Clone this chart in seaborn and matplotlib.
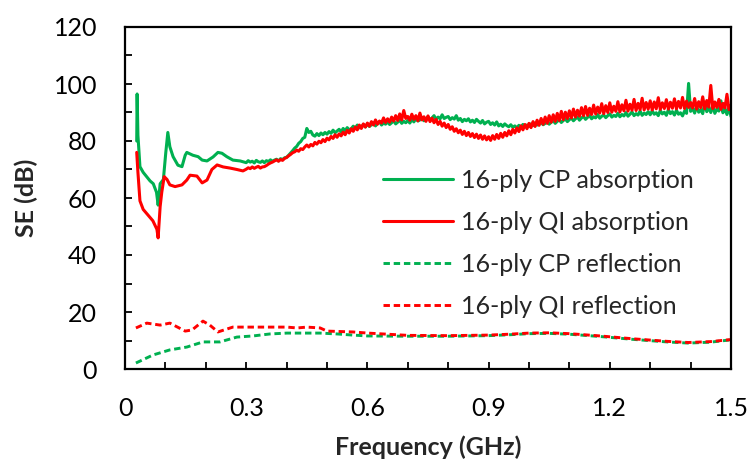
import numpy as np
import pandas as pd
import matplotlib
matplotlib.use("Agg")
import matplotlib.pyplot as plt
import seaborn as sns
from matplotlib.ticker import MultipleLocator

# Absorption, Bereich unter 0.3 GHz (unregelmaessig abgetastet)
cp_abs_f_low = [0.029, 0.030, 0.032, 0.037, 0.045, 0.062, 0.070, 0.078, 0.082, 0.087, 0.095,
                0.101, 0.106, 0.111, 0.119, 0.131, 0.141, 0.149, 0.153, 0.168, 0.181, 0.191,
                0.203, 0.218, 0.230, 0.240, 0.252, 0.267, 0.285]
cp_abs_low = [80.0, 96.5, 82.0, 71.0, 69.0, 66.0, 65.0, 62.0, 57.5, 65.0, 66.5,
              76.0, 83.0, 78.0, 74.5, 71.5, 71.0, 75.0, 76.0, 75.0, 74.5, 73.3,
              73.0, 74.4, 76.0, 75.7, 74.5, 73.3, 73.0]

qi_abs_f_low = [0.029, 0.032, 0.037, 0.045, 0.057, 0.069, 0.079, 0.082, 0.087, 0.091, 0.097,
                0.104, 0.111, 0.124, 0.141, 0.153, 0.161, 0.178, 0.191, 0.203, 0.215, 0.228,
                0.243, 0.260, 0.277, 0.292]
qi_abs_low = [76.0, 69.0, 59.0, 56.0, 54.0, 52.0, 49.0, 46.0, 57.0, 62.0, 67.5,
              66.5, 64.6, 64.0, 64.6, 66.3, 68.0, 67.7, 65.3, 66.3, 70.0, 71.6,
              70.9, 70.5, 70.0, 69.5]

# Absorption ab 0.30 GHz in Schritten von 0.005 GHz (eine Zeile = 0.05 GHz)
f_high = [round(0.30 + 0.005 * i, 3) for i in range(241)]
cp_abs_high = [
    72.4, 73.1, 72.6, 72.9, 72.3, 73.2, 72.7, 72.5, 73.0, 72.4,
    73.1, 72.8, 73.4, 72.9, 73.3, 73.6, 73.0, 73.8, 73.5, 74.1,
    74.3, 75.0, 75.8, 76.6, 77.5, 78.1, 79.2, 79.8, 80.9, 81.3,
    84.4, 83.0, 83.4, 82.1, 81.7, 82.6, 81.9, 82.8, 82.2, 83.0,
    82.4, 83.3, 82.7, 83.8, 82.9, 83.5, 84.1, 83.2, 84.4, 83.6,
    84.7, 83.9, 84.3, 85.2, 84.4, 85.6, 84.6, 85.0, 85.8, 84.9,
    86.0, 85.1, 85.7, 86.4, 85.3, 86.1, 86.8, 85.6, 86.3, 85.9,
    86.7, 85.8, 86.4, 87.1, 86.0, 86.6, 87.3, 86.2, 86.9, 86.4,
    87.2, 86.3, 87.6, 86.7, 87.9, 87.0, 87.4, 88.3, 87.1, 87.8,
    88.5, 87.4, 88.1, 88.9, 87.6, 88.4, 87.8, 89.2, 87.9, 88.3,
    88.6, 87.5, 88.2, 87.7, 88.9, 87.3, 87.9, 86.8, 87.6, 87.1,
    87.8, 86.7, 87.3, 86.5, 87.6, 86.9, 86.3, 87.2, 86.0, 86.6,
    86.9, 85.8, 86.4, 85.6, 86.7, 85.3, 85.9, 85.1, 86.0, 85.4,
    85.0, 85.7, 84.8, 85.3, 84.6, 85.5, 84.9, 85.8, 85.2, 85.6,
    85.1, 86.0, 85.4, 86.3, 85.6, 85.9, 86.5, 85.7, 86.2, 86.8,
    85.9, 86.6, 87.1, 86.2, 86.9, 87.4, 86.5, 87.2, 87.7, 86.8,
    87.5, 88.0, 87.1, 87.8, 88.4, 87.3, 88.1, 88.6, 87.6, 88.3,
    88.9, 87.8, 88.5, 88.1, 89.3, 88.0, 88.7, 89.1, 88.2, 88.9,
    89.5, 88.4, 89.0, 88.6, 89.7, 88.5, 89.3, 88.8, 90.0, 88.7,
    89.4, 90.2, 88.9, 89.6, 89.1, 90.5, 89.0, 89.8, 89.3, 90.3,
    89.2, 90.6, 89.4, 89.9, 88.9, 90.7, 89.5, 90.1, 89.0, 91.0,
    89.6, 90.3, 89.1, 90.8, 89.4, 89.9, 88.8, 90.5, 89.7, 100.2,
    90.4, 91.5, 89.8, 92.3, 90.1, 91.0, 89.6, 93.6, 90.3, 91.8,
    90.0, 92.5, 89.7, 91.2, 90.5, 94.1, 89.9, 91.4, 89.3, 92.0,
    88.6]
qi_abs_high = [
    70.1, 70.6, 70.3, 70.9, 70.4, 70.8, 71.1, 70.5, 70.9, 71.0,
    71.4, 71.9, 72.3, 72.6, 73.0, 73.4, 72.9, 73.5, 73.2, 73.9,
    74.2, 74.8, 75.3, 75.9, 76.2, 76.8, 76.4, 77.3, 77.0, 77.9,
    78.6, 77.9, 78.8, 78.3, 79.5, 78.9, 79.9, 79.4, 80.5, 79.8,
    81.0, 80.4, 81.6, 80.9, 82.2, 81.3, 82.5, 81.8, 83.1, 82.2,
    83.7, 82.8, 84.3, 83.4, 84.9, 83.9, 85.6, 84.4, 86.0, 84.9,
    86.3, 85.2, 86.8, 85.6, 87.4, 85.9, 87.0, 86.3, 88.1, 86.5,
    87.8, 86.6, 88.4, 87.0, 88.9, 87.2, 89.5, 87.4, 90.7, 87.9,
    88.6, 87.3, 89.4, 87.6, 88.9, 87.1, 89.8, 87.4, 88.5, 86.9,
    88.8, 86.8, 88.0, 86.4, 87.6, 85.8, 86.9, 85.2, 86.3, 84.7,
    85.8, 84.1, 85.0, 83.4, 84.3, 82.9, 83.8, 82.3, 83.4, 81.9,
    83.0, 81.6, 82.6, 81.2, 82.4, 80.9, 82.1, 80.6, 81.8, 80.4,
    81.5, 80.2, 81.9, 80.6, 82.3, 80.9, 82.7, 81.3, 83.0, 81.8,
    83.6, 82.2, 84.1, 82.8, 84.6, 83.3, 85.3, 83.9, 85.8, 84.3,
    86.2, 84.7, 86.8, 85.1, 87.3, 85.5, 87.9, 85.9, 88.4, 86.2,
    88.9, 86.6, 89.2, 86.9, 89.7, 87.2, 90.4, 87.5, 90.1, 87.9,
    90.6, 88.1, 91.2, 88.4, 90.8, 88.7, 91.7, 88.9, 92.1, 89.0,
    91.5, 89.3, 92.6, 89.5, 91.9, 89.8, 93.1, 89.6, 92.4, 90.0,
    93.4, 90.1, 92.2, 90.4, 93.8, 90.2, 92.7, 90.6, 94.3, 90.5,
    92.9, 90.8, 94.6, 90.7, 93.2, 91.0, 95.0, 90.9, 93.5, 91.2,
    94.1, 90.9, 93.7, 91.3, 95.2, 91.1, 93.4, 91.4, 94.5, 91.2,
    93.6, 91.5, 94.8, 91.3, 93.9, 91.6, 95.3, 91.4, 94.0, 91.8,
    93.5, 91.6, 94.9, 91.2, 93.8, 91.7, 95.5, 91.3, 94.2, 91.9,
    99.5, 91.4, 93.7, 91.8, 94.6, 91.1, 93.2, 91.6, 96.4, 91.0,
    92.5]

# Reflexion
cp_ref_f = [0.027, 0.069, 0.111, 0.153, 0.193, 0.235, 0.277, 0.317, 0.359, 0.401, 0.441,
            0.483, 0.525, 0.564, 0.60, 0.70, 0.80, 0.90, 0.95, 1.00, 1.05, 1.10, 1.176,
            1.257, 1.342, 1.394, 1.448, 1.498]
cp_ref = [2.1, 4.9, 6.7, 7.7, 9.5, 9.5, 11.2, 11.6, 12.3, 12.6, 12.6,
          12.6, 12.3, 11.9, 11.6, 11.5, 11.5, 11.7, 12.0, 12.4, 12.5, 12.2, 11.4,
          10.4, 9.5, 9.1, 9.4, 10.2]
qi_ref_f = [0.027, 0.054, 0.087, 0.111, 0.149, 0.166, 0.193, 0.210, 0.230, 0.267, 0.317,
            0.359, 0.401, 0.426, 0.450, 0.483, 0.500, 0.564, 0.601, 0.70, 0.80, 0.90,
            0.95, 1.00, 1.05, 1.10, 1.176, 1.257, 1.342, 1.394, 1.448, 1.498]
qi_ref = [14.4, 16.1, 15.4, 16.1, 13.3, 13.7, 16.8, 15.4, 13.0, 14.7, 14.7,
          14.7, 14.7, 14.4, 14.7, 14.4, 13.3, 13.0, 12.6, 11.8, 11.7, 11.9,
          12.2, 12.6, 12.7, 12.4, 11.6, 10.6, 9.7, 9.3, 9.6, 10.3]

labels = ['16-ply CP absorption', '16-ply QI absorption',
          '16-ply CP reflection', '16-ply QI reflection']
x_ticks = [0, 0.3, 0.6, 0.9, 1.2, 1.5]
x_ticklabels = ['0', '0.3', '0.6', '0.9', '1.2', '1.5']
y_ticks = [0, 20, 40, 60, 80, 100, 120]

sns.set_style("ticks")
plt.rcParams['font.family'] = ['Lato', 'DejaVu Sans']

fig = plt.figure(figsize=(7.51, 4.61), dpi=100)
ax = fig.add_axes([125 / 751, 1 - 369 / 461, 606 / 751, 342 / 461])

green = '#00B050'
red = '#FF0000'

sns.lineplot(x=cp_abs_f_low + f_high, y=cp_abs_low + cp_abs_high, ax=ax, color=green,
             lw=2.2, label=labels[0], estimator=None, sort=False)
sns.lineplot(x=qi_abs_f_low + f_high, y=qi_abs_low + qi_abs_high, ax=ax, color=red,
             lw=2.2, label=labels[1], estimator=None, sort=False)
sns.lineplot(x=cp_ref_f, y=cp_ref, ax=ax, color=green, lw=2.1, linestyle='--',
             label=labels[2], estimator=None, sort=False)
sns.lineplot(x=qi_ref_f, y=qi_ref, ax=ax, color=red, lw=2.1, linestyle='--',
             label=labels[3], estimator=None, sort=False)
for ln in ax.lines[2:4]:
    ln.set_dashes([2.2, 1.3])

ax.set_xlim(0, 1.5)
ax.set_ylim(0, 120)
ax.set_xticks(x_ticks)
ax.set_xticklabels(x_ticklabels)
ax.xaxis.set_minor_locator(MultipleLocator(0.1))
ax.set_yticks(y_ticks)
ax.set_yticklabels([str(v) for v in y_ticks])
ax.yaxis.set_minor_locator(MultipleLocator(10))

for side in ['left', 'bottom', 'right', 'top']:
    ax.spines[side].set_visible(True)
    ax.spines[side].set_linewidth(1.6)
    ax.spines[side].set_color('black')

ax.tick_params(which='both', direction='in', length=5, width=1.3, color='black',
               top=False, right=False, labelsize=18, labelcolor='black')
ax.tick_params(axis='x', which='both', pad=20)
ax.tick_params(axis='y', which='both', pad=20)

ax.set_xlabel('Frequency (GHz)', fontsize=18, fontweight='bold', labelpad=11)
ax.set_ylabel('SE (dB)', fontsize=18, fontweight='bold', labelpad=11)

leg = ax.legend(loc='upper left', bbox_to_anchor=(0.425, 0.585), frameon=False,
                fontsize=18, handlelength=2.8, handletextpad=0.35, labelspacing=0.76,
                borderaxespad=0, borderpad=0)

fig.savefig('out.png', dpi=100)
